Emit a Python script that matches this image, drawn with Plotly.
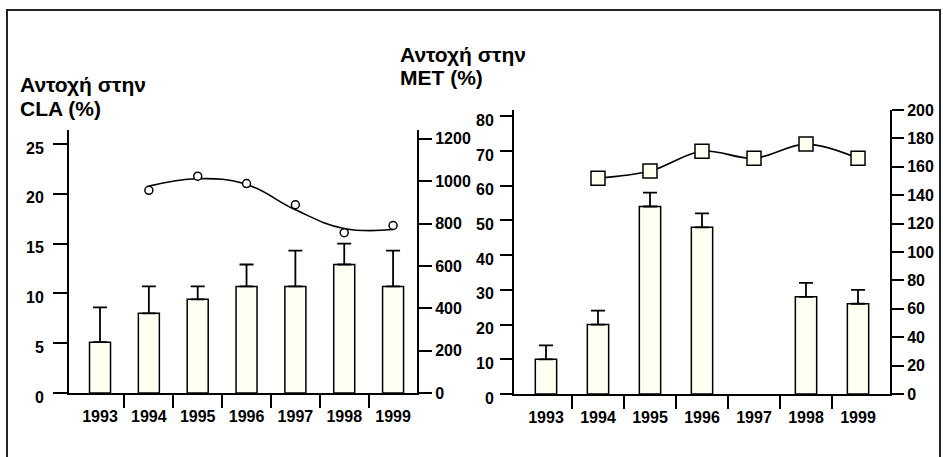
import plotly.graph_objects as go

years = [1993, 1994, 1995, 1996, 1997, 1998, 1999]
year_labels = ["1993", "1994", "1995", "1996", "1997", "1998", "1999"]

# Left panel: CLA resistance (%) bars with SD, and isolates count (right axis)
cla_pct = [5.1, 8.0, 9.4, 10.7, 10.7, 12.9, 10.7]
cla_err = [3.5, 2.7, 1.3, 2.2, 3.6, 2.1, 3.6]
cla_n_years = [1994, 1995, 1996, 1997, 1998, 1999]
cla_n = [957, 1024, 989, 889, 757, 791]
cla_trend = [977, 1012, 985, 865, 777, 772]

# Right panel: MET resistance (%) bars with SD, and isolates count (right axis)
met_pct = [10, 20, 54, 48, None, 28, 26]
met_err = [4, 4, 4, 4, None, 4, 4]
met_n_years = [1994, 1995, 1996, 1997, 1998, 1999]
met_n = [152, 157, 171, 166, 176, 166]

cla_ticks = [0, 5, 10, 15, 20, 25]
cla_n_ticks = [0, 200, 400, 600, 800, 1000, 1200]
met_ticks = [0, 10, 20, 30, 40, 50, 60, 70, 80]
met_n_ticks = [0, 20, 40, 60, 80, 100, 120, 140, 160, 180, 200]

W, H = 943, 457
FONT = "Liberation Sans, Arial, sans-serif"
BAR_FILL = "#FFFFF2"


def px(x):
    return x / W


def py(y):
    return 1 - y / H


def bold(vals):
    return [f"<b>{v}</b>" for v in vals]


fig = go.Figure()

fig.add_trace(go.Bar(
    x=years, y=cla_pct, width=0.43, xaxis="x", yaxis="y",
    marker=dict(color=BAR_FILL, line=dict(color="black", width=1.5)),
    error_y=dict(type="data", symmetric=False, array=cla_err,
                 arrayminus=[0] * len(cla_err), color="black", thickness=1.8, width=7),
    showlegend=False,
))
fig.add_trace(go.Scatter(
    x=cla_n_years, y=cla_trend, xaxis="x", yaxis="y2", mode="lines",
    line=dict(color="black", width=1.6, shape="spline", smoothing=1.2),
    showlegend=False,
))
fig.add_trace(go.Scatter(
    x=cla_n_years, y=cla_n, xaxis="x", yaxis="y2", mode="markers",
    marker=dict(symbol="circle", size=8, color="white", line=dict(color="black", width=1.5)),
    showlegend=False,
))

fig.add_trace(go.Bar(
    x=years, y=met_pct, width=0.41, xaxis="x2", yaxis="y3",
    marker=dict(color=BAR_FILL, line=dict(color="black", width=1.5)),
    error_y=dict(type="data", symmetric=False, array=met_err,
                 arrayminus=[0] * len(met_err), color="black", thickness=1.8, width=7),
    showlegend=False,
))
fig.add_trace(go.Scatter(
    x=met_n_years, y=met_n, xaxis="x2", yaxis="y4", mode="lines+markers",
    line=dict(color="black", width=1.6, shape="spline", smoothing=1),
    marker=dict(symbol="square", size=14, color=BAR_FILL, line=dict(color="black", width=1.5)),
    showlegend=False,
))

tickfont = dict(family=FONT, size=16, color="black")
minor_ticks = dict(tickmode="array", tickvals=[1993.5, 1994.5, 1995.5, 1996.5, 1997.5, 1998.5],
                   ticks="outside", ticklen=13, tickwidth=2, tickcolor="black")

xcommon = dict(
    tickmode="array", tickvals=years, ticktext=bold(year_labels), ticks="", ticklabelstandoff=8,
    showline=True, linecolor="black", linewidth=2, showgrid=False, zeroline=False,
    tickfont=tickfont, minor=minor_ticks, fixedrange=True, automargin=False,
)
ycommon = dict(
    ticks="outside", tickwidth=2, tickcolor="black", showline=True, linecolor="black",
    linewidth=2, showgrid=False, zeroline=False, tickfont=tickfont, fixedrange=True,
    automargin=False, tickmode="array",
)

fig.update_layout(
    template="none",
    width=W, height=H,
    margin=dict(l=0, r=0, t=0, b=0, pad=0, autoexpand=False),
    paper_bgcolor="white", plot_bgcolor="white",
    xaxis=dict(domain=[px(69), px(417)], range=[1992.365, 1999.49], anchor="y", **xcommon),
    yaxis=dict(domain=[py(393), py(130)], range=[0, 26.4],
               tickvals=cla_ticks, ticktext=bold(cla_ticks), ticklen=14, ticklabelstandoff=6,
               ticklabelshift=4, anchor="x", side="left", **ycommon),
    yaxis2=dict(domain=[py(393), py(130)], range=[0, 1242],
                tickvals=cla_n_ticks, ticktext=bold(cla_n_ticks), ticklen=13, ticklabelstandoff=0,
                anchor="x", overlaying="y", side="right", **ycommon),
    xaxis2=dict(domain=[px(514), px(890)], range=[1992.385, 1999.615], anchor="y3", **xcommon),
    yaxis3=dict(domain=[py(394), py(110)], range=[0, 81.8],
                tickvals=met_ticks, ticktext=bold(met_ticks), ticklen=12, ticklabelstandoff=3,
                ticklabelshift=4, anchor="x2", side="left", **ycommon),
    yaxis4=dict(domain=[py(394), py(110)], range=[0, 200],
                tickvals=met_n_ticks, ticktext=bold(met_n_ticks), ticklen=12, ticklabelstandoff=0,
                anchor="x2", overlaying="y3", side="right", **ycommon),
)

title_font = dict(family=FONT, size=21, color="black")
titles = [
    ("Αντοχή στην", 19, 84),
    ("CLA (%)", 19, 108),
    ("Αντοχή στην", 399, 54),
    ("MET (%)", 399, 78),
]
for txt, tx, ty in titles:
    fig.add_annotation(text=f"<b>{txt}</b>", xref="paper", yref="paper",
                       x=px(tx), y=py(ty), xanchor="left", yanchor="middle", align="left",
                       showarrow=False, font=title_font, borderpad=0)

# outer frame
fig.add_shape(type="path", xref="paper", yref="paper",
              path=f"M {px(7)} -0.05 L {px(7)} {py(10)} L {px(940)} {py(10)} L {px(940)} -0.05",
              line=dict(color="#222222", width=2))

fig.write_html("out.html", config={"displayModeBar": False},
               post_script="document.body.style.margin='0';document.body.style.padding='0';")
